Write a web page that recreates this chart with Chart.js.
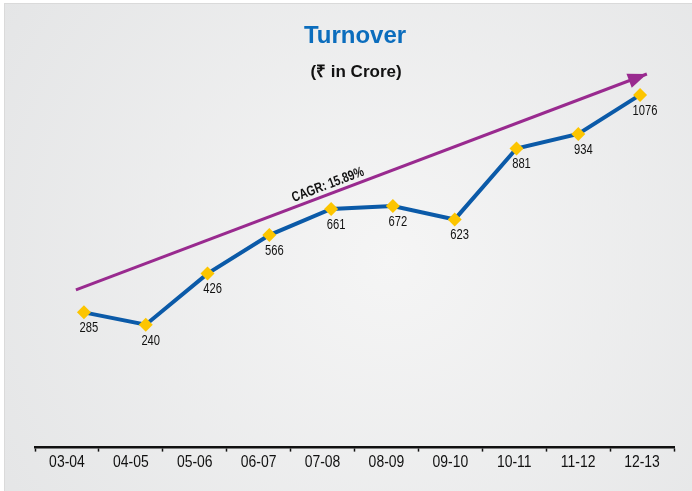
<!DOCTYPE html>
<html>
<head>
<meta charset="utf-8">
<script src="https://cdn.jsdelivr.net/npm/chart.js@4.4.1/dist/chart.umd.min.js"></script>
<style>
  body { margin: 0; background: #fff; }
  #wrap { width: 692px; height: 491px; }
</style>
</head>
<body>
<div id="wrap"><canvas id="myChart" width="692" height="491"></canvas></div>
<script>
// data
const years = ["03-04", "04-05", "05-06", "06-07", "07-08", "08-09", "09-10", "10-11", "11-12", "12-13"]
const turnover = [285, 240, 426, 566, 661, 672, 623, 881, 934, 1076]
// CAGR arrow, start and end (index, value)
const cagrX = [-0.13, 9.11]
const cagrY = [367, 1152]
const cagrText = "CAGR: 15.89%"
const titleText = "Turnover"
const subText = "(₹ in Crore)"

const sans = "'Liberation Sans', Arial, sans-serif"

// no Arial Narrow here, so squeeze Liberation Sans a bit
function narrowText(ctx, text, x, y, font, sx) {
    ctx.save()
    ctx.translate(x, y)
    ctx.scale(sx || 0.82, 1)
    ctx.font = font
    ctx.fillText(text, 0, 0)
    ctx.restore()
}

const bgPlugin = {
    id: 'bg',
    beforeDraw(chart) {
        let ctx = chart.ctx
        ctx.save()
        ctx.fillStyle = '#fff'
        ctx.fillRect(0, 0, chart.width, chart.height)
        let g = ctx.createRadialGradient(390, 260, 0, 390, 260, 470)
        g.addColorStop(0, '#f5f5f5')
        g.addColorStop(1, '#e4e5e6')
        ctx.fillStyle = '#dadada'
        ctx.fillRect(4, 3, chart.width, chart.height)
        ctx.fillStyle = g
        ctx.fillRect(5, 4, chart.width, chart.height)
        ctx.restore()
    }
}

const extras = {
    id: 'extras',
    afterDatasetsDraw(chart) {
        let ctx = chart.ctx
        ctx.save()
        ctx.fillStyle = '#111'
        ctx.textAlign = 'center'
        ctx.textBaseline = 'middle'
        // value labels under the points
        chart.getDatasetMeta(0).data.forEach((p, i) => {
            narrowText(ctx, turnover[i], p.x + 5, p.y + 16, "14px " + sans, 0.8)
        })
        // category labels under the axis
        let xs = chart.scales.x
        years.forEach((lab, i) => {
            narrowText(ctx, lab, xs.getPixelForValue(i), xs.top + 15, "17px " + sans)
        })
        // arrow head on the CAGR line
        let pts = chart.getDatasetMeta(1).data
        let a = pts[0], b = pts[1]
        let ang = Math.atan2(b.y - a.y, b.x - a.x)
        ctx.fillStyle = '#992a8f'
        ctx.translate(b.x, b.y)
        ctx.rotate(ang)
        ctx.beginPath()
        ctx.moveTo(0, 0)
        ctx.lineTo(-19, -7.5)
        ctx.lineTo(-19, 7.5)
        ctx.closePath()
        ctx.fill()
        ctx.setTransform(1, 0, 0, 1, 0, 0)
        // CAGR text along the line
        let t = 0.447
        let cx = a.x + (b.x - a.x) * t, cy = a.y + (b.y - a.y) * t
        ctx.translate(cx + 9 * Math.sin(ang), cy - 9 * Math.cos(ang))
        ctx.rotate(ang)
        ctx.fillStyle = '#111'
        narrowText(ctx, cagrText, 0, 0, "bold 14px " + sans, 0.78)
        ctx.restore()
    },
    afterDraw(chart) {
        let ctx = chart.ctx
        ctx.save()
        ctx.textAlign = 'center'
        ctx.textBaseline = 'alphabetic'
        ctx.fillStyle = '#0b6dbd'
        ctx.font = "bold 24px " + sans
        ctx.fillText(titleText, 355, 43)
        ctx.fillStyle = '#111'
        ctx.font = "bold 17px " + sans
        ctx.fillText(subText, 356, 77)
        ctx.restore()
    }
}

new Chart("myChart", {
    type: "line",
    data: {
        labels: years,
        datasets: [{
            data: turnover.map((v, i) => ({ x: i, y: v })),
            xAxisID: 'x2',
            borderColor: '#0b5aa8',
            borderWidth: 4,
            pointStyle: 'rectRot',
            pointRadius: 7,
            pointBackgroundColor: '#fcc500',
            pointBorderWidth: 0,
            tension: 0,
            clip: false
        }, {
            data: cagrX.map((x, i) => ({ x: x, y: cagrY[i] })),
            xAxisID: 'x2',
            borderColor: '#992a8f',
            borderWidth: 3,
            pointRadius: 0,
            clip: false
        }]
    },
    plugins: [bgPlugin, extras],
    options: {
        responsive: false,
        animation: false,
        layout: { padding: { left: 35, right: 18, top: 60, bottom: 19 } },
        plugins: {
            legend: { display: false },
            title: { display: false },
            tooltip: { enabled: false }
        },
        scales: {
            x: {
                type: 'category',
                offset: true,
                grid: { offset: true, drawOnChartArea: false, tickLength: 4, tickColor: '#111', tickWidth: 1.5 },
                border: { color: '#111', width: 2.5 },
                // labels are drawn squeezed by the plugin, keep the space here
                ticks: { padding: 0, color: 'rgba(0,0,0,0)', font: { family: sans, size: 17 } }
            },
            x2: { type: 'linear', display: false, min: -0.792, max: 9.549 },
            y: { display: false, min: -207, max: 1203 }
        }
    }
})
</script>
</body>
</html>
